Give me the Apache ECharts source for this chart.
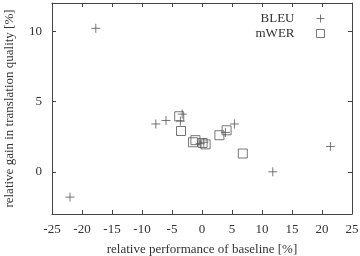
<!DOCTYPE html>
<html>
<head>
<meta charset="utf-8">
<script src="https://cdn.jsdelivr.net/npm/echarts@6/dist/echarts.min.js"></script>
<style>
  html, body { margin: 0; padding: 0; background: #fff; }
  #chart { width: 360px; height: 256px; }
</style>
</head>
<body>
<div id="chart"></div>
<script>
// data: [relative performance of baseline, relative gain]
const bleuPoints = [
  [-22, -1.8], [-17.7, 10.2], [-7.7, 3.4], [-6.0, 3.65], [-3.3, 4.1],
  [-3.6, 3.6], [-0.3, 2.0], [0.3, 2.1], [3.9, 2.8], [5.4, 3.4],
  [11.8, 0.0], [21.4, 1.8]
];
const mwerPoints = [
  [-3.8, 3.95], [-3.5, 2.9], [-1.5, 2.1], [-1.1, 2.25], [0.1, 2.05],
  [0.6, 1.95], [2.9, 2.6], [4.1, 2.95], [6.8, 1.3]
];
const xTicks = [-25, -20, -15, -10, -5, 0, 5, 10, 15, 20, 25];
const yTicks = [0, 5, 10];

const axisColor = '#444';
const textColor = '#333';
const font = '"Liberation Serif", "DejaVu Serif", serif';
const plusPath = 'path://M0,5L10,5M5,0L5,10';

const chart = echarts.init(document.getElementById('chart'));

const baseX = {
  type: 'value', min: -25, max: 25, interval: 5,
  axisLine: { show: true, onZero: false, lineStyle: { color: axisColor, width: 1 } },
  axisTick: { show: true, inside: true, length: 4, lineStyle: { color: axisColor } },
  splitLine: { show: false }
};
const baseY = {
  type: 'value', min: -3, max: 12,
  axisLine: { show: true, onZero: false, lineStyle: { color: axisColor, width: 1 } },
  axisTick: { show: true, inside: true, length: 4, customValues: yTicks, lineStyle: { color: axisColor } },
  splitLine: { show: false }
};

chart.setOption({
  animation: false,
  textStyle: { fontFamily: font },
  grid: { left: 52, right: 8, top: 3, bottom: 42, outerBoundsMode: 'none', containLabel: false },
  legend: {
    right: 30, top: 7, orient: 'vertical', align: 'right',
    itemWidth: 8, itemHeight: 8, itemGap: 2,
    itemStyle: { borderWidth: 1 },
    textStyle: { fontFamily: font, fontSize: 13, color: textColor, padding: [0, 17, 0, 0] },
    data: [
      { name: 'BLEU', icon: plusPath },
      { name: 'mWER', icon: 'rect' }
    ]
  },
  xAxis: [
    Object.assign({}, baseX, {
      position: 'bottom',
      name: 'relative performance of baseline [%]',
      nameLocation: 'middle', nameGap: 29,
      nameTextStyle: { fontFamily: font, fontSize: 13, color: textColor },
      axisLabel: {
        fontFamily: font, fontSize: 13, color: textColor, margin: 9,
        customValues: xTicks, formatter: v => String(v)
      }
    }),
    Object.assign({}, baseX, { position: 'top', axisLabel: { show: false } })
  ],
  yAxis: [
    Object.assign({}, baseY, {
      position: 'left',
      name: 'relative gain in translation quality [%]',
      nameLocation: 'middle', nameGap: 36,
      nameTextStyle: { fontFamily: font, fontSize: 13, color: textColor },
      axisLabel: {
        fontFamily: font, fontSize: 13, color: textColor, margin: 10,
        customValues: yTicks
      }
    }),
    Object.assign({}, baseY, { position: 'right', axisLabel: { show: false } })
  ],
  series: [
    {
      name: 'BLEU', type: 'scatter', data: bleuPoints,
      xAxisIndex: 0, yAxisIndex: 0,
      symbol: plusPath, symbolSize: 9,
      itemStyle: { color: 'rgba(0,0,0,0)', borderColor: '#555', borderWidth: 1 }
    },
    {
      name: 'mWER', type: 'scatter', data: mwerPoints,
      xAxisIndex: 0, yAxisIndex: 0,
      symbol: 'rect', symbolSize: 9,
      itemStyle: { color: 'rgba(0,0,0,0)', borderColor: '#555', borderWidth: 1 }
    }
  ]
});
</script>
</body>
</html>
